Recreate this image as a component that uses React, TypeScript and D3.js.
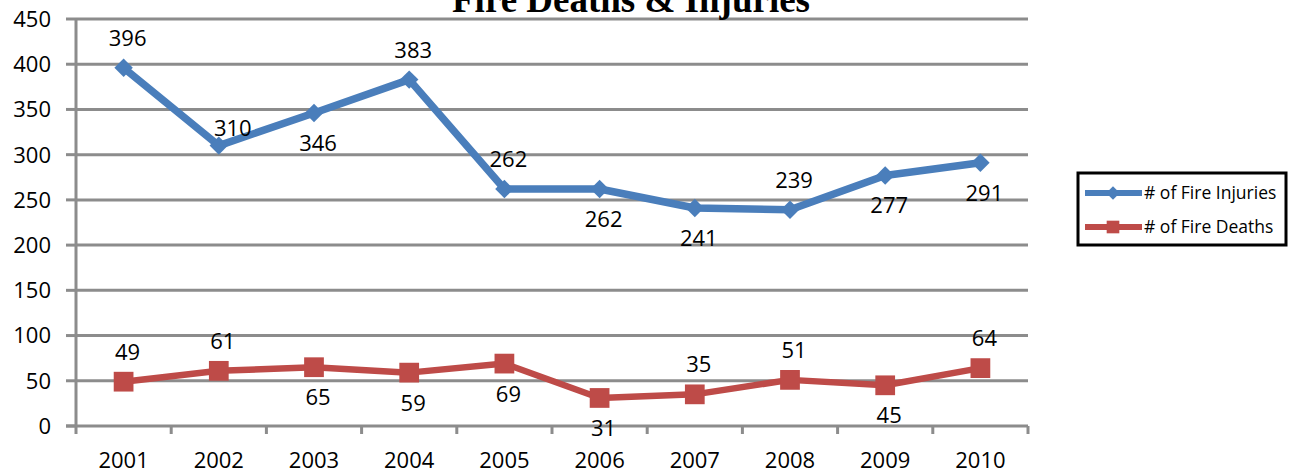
import React from "react";
import * as d3 from "d3";

const years = ["2001", "2002", "2003", "2004", "2005", "2006", "2007", "2008", "2009", "2010"];
const injuries = [396, 310, 346, 383, 262, 262, 241, 239, 277, 291];
const deaths = [49, 61, 65, 59, 69, 31, 35, 51, 45, 64];
const yTicks = [0, 50, 100, 150, 200, 250, 300, 350, 400, 450];
const injuryLabelPos = ["above", "right", "below", "above", "above", "below", "below", "above", "below", "below"];
const deathLabelPos = ["above", "above", "below", "below", "below", "below", "above", "above", "below", "above"];
const seriesNames = ["# of Fire Injuries", "# of Fire Deaths"];
const title = "Fire Deaths & Injuries";

const W = 1297;
const H = 473;
const left = 76;
const right = 1028;
const top = 19;
const bottom = 426;
const BLUE = "#4A7EBB";
const RED = "#BE4B48";
const GRID = "#8C8C8C";
const FONT = "'Open Sans', 'Noto Sans', sans-serif";

function offset(pos: string): [number, number] {
  if (pos === "above") return [4, -30];
  if (pos === "below") return [4, 30];
  return [14, -18];
}

export default function App() {
  const x = d3.scaleBand().domain(years).range([left, right]).padding(0);
  const y = d3.scaleLinear().domain([0, 450]).range([bottom, top]);
  const cx = (d: string) => (x(d) ?? 0) + x.bandwidth() / 2;
  const line = d3
    .line<number>()
    .x((_, i) => cx(years[i]))
    .y((v) => y(v));

  const diamond = d3.symbol().type(d3.symbolSquare).size(170)();
  const square = d3.symbol().type(d3.symbolSquare).size(390)();

  const legendX = 1078;
  const legendY = 173;

  return (
    <svg width={W} height={H} style={{ position: "absolute", left: 0, top: 0 }}>
      <rect x={0} y={0} width={W} height={H} fill="#fff" />
      {yTicks.map((t) => (
        <g key={t}>
          {t > 0 && <line x1={left} x2={right} y1={y(t)} y2={y(t)} stroke={GRID} strokeWidth={3} />}
          <line x1={66} x2={left} y1={y(t)} y2={y(t)} stroke={GRID} strokeWidth={3} />
          <text x={51} y={y(t)} dy="0.36em" textAnchor="end" fontFamily={FONT} fontSize={22} fill="#000">
            {t}
          </text>
        </g>
      ))}
      <line x1={left} x2={left} y1={top} y2={bottom + 8} stroke={GRID} strokeWidth={3} />
      <line x1={66} x2={right} y1={bottom} y2={bottom} stroke={GRID} strokeWidth={3} />
      {years.map((yr) => (
        <line
          key={"t" + yr}
          x1={(x(yr) ?? 0) + x.bandwidth()}
          x2={(x(yr) ?? 0) + x.bandwidth()}
          y1={bottom}
          y2={bottom + 8}
          stroke={GRID}
          strokeWidth={3}
        />
      ))}
      {years.map((yr) => (
        <text key={"x" + yr} x={cx(yr)} y={468} textAnchor="middle" fontFamily={FONT} fontSize={22} fill="#000">
          {yr}
        </text>
      ))}
      <text
        x={631}
        y={12}
        textAnchor="middle"
        fontFamily="'Liberation Serif', 'Times New Roman', serif"
        fontWeight="bold"
        fontSize={37}
        fill="#000"
      >
        {title}
      </text>
      <path d={line(injuries) ?? ""} fill="none" stroke={BLUE} strokeWidth={7.5} strokeLinejoin="round" />
      <path d={line(deaths) ?? ""} fill="none" stroke={RED} strokeWidth={6.5} strokeLinejoin="round" />
      {injuries.map((v, i) => (
        <path
          key={"di" + i}
          d={diamond ?? ""}
          transform={`translate(${cx(years[i])},${y(v)}) rotate(45)`}
          fill={BLUE}
        />
      ))}
      {deaths.map((v, i) => (
        <path key={"sq" + i} d={square ?? ""} transform={`translate(${cx(years[i])},${y(v)})`} fill={RED} />
      ))}
      {injuries.map((v, i) => {
        const [dx, dy] = offset(injuryLabelPos[i]);
        return (
          <text
            key={"li" + i}
            x={cx(years[i]) + dx}
            y={y(v) + dy}
            dy="0.36em"
            textAnchor="middle"
            fontFamily={FONT}
            fontSize={22}
            fill="#000"
          >
            {v}
          </text>
        );
      })}
      {deaths.map((v, i) => {
        const [dx, dy] = offset(deathLabelPos[i]);
        return (
          <text
            key={"ld" + i}
            x={cx(years[i]) + dx}
            y={y(v) + dy}
            dy="0.36em"
            textAnchor="middle"
            fontFamily={FONT}
            fontSize={22}
            fill="#000"
          >
            {v}
          </text>
        );
      })}
      <rect x={legendX} y={legendY} width={208} height={72} fill="#fff" stroke="#000" strokeWidth={3} />
      {seriesNames.map((name, i) => {
        const ly = legendY + 20 + i * 34;
        const color = i === 0 ? BLUE : RED;
        return (
          <g key={name}>
            <line x1={1085} x2={1142} y1={ly} y2={ly} stroke={color} strokeWidth={6} />
            {i === 0 ? (
              <path
                d={d3.symbol().type(d3.symbolSquare).size(90)() ?? ""}
                transform={`translate(1113,${ly}) rotate(45)`}
                fill={color}
              />
            ) : (
              <path d={d3.symbol().type(d3.symbolSquare).size(160)() ?? ""} transform={`translate(1113,${ly})`} fill={color} />
            )}
            <text x={1144} y={ly} dy="0.36em" fontFamily={FONT} fontSize={17.5} fill="#000">
              {name}
            </text>
          </g>
        );
      })}
    </svg>
  );
}
